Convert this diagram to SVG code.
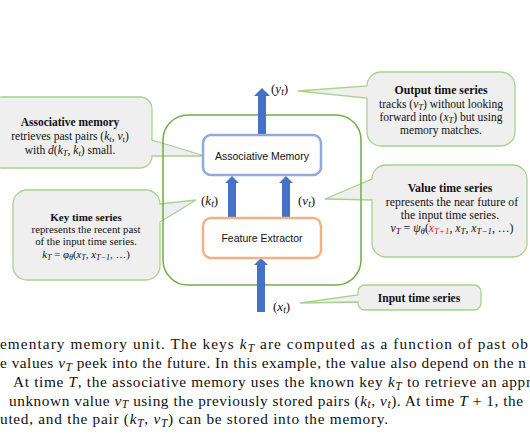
<svg xmlns="http://www.w3.org/2000/svg" width="530" height="442" viewBox="0 0 530 442">
<style>
.callout{fill:#efefef;stroke:#a9d18e;stroke-width:1.3}
.unit{fill:none;stroke:#70ad47;stroke-width:1.5}
.box{fill:#fff;stroke-width:2.5}
.arrow{fill:#4472c4}
.ct{font-family:"Liberation Serif",serif;fill:#111;text-anchor:middle}
.b{font-weight:bold}
.m{font-style:italic}
.sub{font-size:75%}
.bt{font-family:"Liberation Sans",Arial,sans-serif;font-size:10.5px;fill:#111;text-anchor:middle}
.lab{font-family:"Liberation Serif",serif;font-size:13px;fill:#111}
.cap{font-family:"Liberation Serif",serif;font-size:15.3px;fill:#111}
</style>
<rect width="530" height="442" fill="#fff"/>

<g id="callout-assoc">
<path class="callout" d="M 2,97 H 140 A 12 12 0 0 1 152,109 V 140 L 205,156 L 152,156 A 12 12 0 0 1 140,168 H 2 A 12 12 0 0 1 -10,156 V 109 A 12 12 0 0 1 2,97 Z"/>
<text class="ct b" x="70" y="125.5" font-size="11.5">Associative memory</text>
<text class="ct" x="70" y="139.5" font-size="11.5">retrieves past pairs (<tspan class="m">k</tspan><tspan class="sub m" dy="2">t</tspan><tspan dy="-2">, </tspan><tspan class="m">v</tspan><tspan class="sub m" dy="2">t</tspan><tspan dy="-2">)</tspan></text>
<text class="ct" x="70" y="154" font-size="11.5">with <tspan class="m">d</tspan>(<tspan class="m">k</tspan><tspan class="sub m" dy="2">T</tspan><tspan dy="-2">, </tspan><tspan class="m">k</tspan><tspan class="sub m" dy="2">t</tspan><tspan dy="-2">) small.</tspan></text>
</g>

<g id="callout-key">
<path class="callout" d="M 27,190 H 146 A 14 14 0 0 1 160,204 L 196,200 L 160,222 V 266 A 14 14 0 0 1 146,280 H 27 A 14 14 0 0 1 13,266 V 204 A 14 14 0 0 1 27,190 Z"/>
<text class="ct b" x="86" y="220.5" font-size="11">Key time series</text>
<text class="ct" x="86" y="232.5" font-size="10.8">represents the recent past</text>
<text class="ct" x="86" y="245" font-size="10.8">of the input time series.</text>
<text class="ct" x="86" y="257.5" font-size="10.8"><tspan class="m">k</tspan><tspan class="sub m" dy="2">T</tspan><tspan dy="-2"> = </tspan><tspan class="m">φ</tspan><tspan class="sub m" dy="2">θ</tspan><tspan dy="-2">(</tspan><tspan class="m">x</tspan><tspan class="sub m" dy="2">T</tspan><tspan dy="-2">, </tspan><tspan class="m">x</tspan><tspan class="sub m" dy="2">T−1</tspan><tspan dy="-2">, …)</tspan></text>
</g>

<g id="callout-output">
<path class="callout" d="M 381,72 H 501 A 14 14 0 0 1 515,86 V 132 A 14 14 0 0 1 501,146 H 381 A 14 14 0 0 1 367,132 V 98 L 298,91 L 367,86 A 14 14 0 0 1 381,72 Z"/>
<text class="ct b" x="441" y="94" font-size="11.8">Output time series</text>
<text class="ct" x="441" y="108" font-size="11.5">tracks (<tspan class="m">v</tspan><tspan class="sub m" dy="1.5">T</tspan><tspan dy="-1.5">) without looking</tspan></text>
<text class="ct" x="441" y="121" font-size="11.5">forward into (<tspan class="m">x</tspan><tspan class="sub m" dy="1.5">T</tspan><tspan dy="-1.5">) but using</tspan></text>
<text class="ct" x="441" y="134" font-size="11.5">memory matches.</text>
</g>

<g id="callout-value">
<path class="callout" d="M 386,165 H 513 A 14 14 0 0 1 527,179 V 243 A 14 14 0 0 1 513,257 H 386 A 14 14 0 0 1 372,243 V 200 L 325,199 L 372,179 A 14 14 0 0 1 386,165 Z"/>
<text class="ct b" x="450" y="191.5" font-size="11.8">Value time series</text>
<text class="ct" x="452" y="205.5" font-size="11.8">represents the near future of</text>
<text class="ct" x="450" y="218.5" font-size="11.8">the input time series.</text>
<text class="ct" x="452" y="231.5" font-size="11.8"><tspan class="m">v</tspan><tspan class="sub m" dy="2">T</tspan><tspan dy="-2"> = </tspan><tspan class="m">ψ</tspan><tspan class="sub m" dy="2">θ</tspan><tspan dy="-2">(</tspan><tspan class="m" fill="#e0201b">x</tspan><tspan class="sub m" dy="2" fill="#e0201b">T+1</tspan><tspan dy="-2">, </tspan><tspan class="m">x</tspan><tspan class="sub m" dy="2">T</tspan><tspan dy="-2">, </tspan><tspan class="m">x</tspan><tspan class="sub m" dy="2">T−1</tspan><tspan dy="-2">, …)</tspan></text>
</g>

<g id="callout-input">
<path class="callout" d="M 365,285 H 474 A 7 7 0 0 1 481,292 V 303 A 7 7 0 0 1 474,310 H 365 A 7 7 0 0 1 358,303 V 302 L 300,303 L 358,295 V 292 A 7 7 0 0 1 365,285 Z"/>
<text class="ct b" x="419" y="301.5" font-size="11.5">Input time series</text>
</g>

<g id="memory-unit">
<rect class="unit" x="163" y="115" width="198" height="170" rx="25"/>
</g>

<g id="connectors">
<polygon class="arrow" points="258,134 258,96 254,96 262,88 270,96 266,96 266,134"/>
<polygon class="arrow" points="228,217 228,183 225,183 232,176 239,183 236,183 236,217"/>
<polygon class="arrow" points="282,217 282,183 279,183 286,176 293,183 290,183 290,217"/>
<polygon class="arrow" points="257,312 257,265 254,265 261,258 268,265 265,265 265,312"/>
</g>

<g id="assoc-memory">
<rect class="box" x="203" y="135" width="118" height="40" rx="8" stroke="#8faadc"/>
<text class="bt" x="262" y="159.5">Associative Memory</text>
</g>

<g id="feature-extractor">
<rect class="box" x="203" y="218" width="118" height="40" rx="8" stroke="#f4b183"/>
<text class="bt" x="262" y="241.5">Feature Extractor</text>
</g>

<g id="labels">
<text class="lab" x="271" y="93">(<tspan class="m">y</tspan><tspan class="sub m" dy="2">t</tspan><tspan dy="-2">)</tspan></text>
<text class="lab" x="201" y="205">(<tspan class="m">k</tspan><tspan class="sub m" dy="2">t</tspan><tspan dy="-2">)</tspan></text>
<text class="lab" x="298" y="205">(<tspan class="m">v</tspan><tspan class="sub m" dy="2">t</tspan><tspan dy="-2">)</tspan></text>
<text class="lab" x="273" y="311">(<tspan class="m">x</tspan><tspan class="sub m" dy="2">t</tspan><tspan dy="-2">)</tspan></text>
</g>

<g id="caption">
<text class="cap" x="0" y="349" textLength="528" lengthAdjust="spacing">ementary memory unit.  The keys <tspan class="m">k</tspan><tspan class="sub m" dy="2.5">T</tspan><tspan dy="-2.5"> are computed as a function of past ob</tspan></text>
<text class="cap" x="0" y="368" textLength="526" lengthAdjust="spacing">e values <tspan class="m">v</tspan><tspan class="sub m" dy="2.5">T</tspan><tspan dy="-2.5"> peek into the future. In this example, the value also depend on the n</tspan></text>
<text class="cap" x="13" y="387" textLength="518" lengthAdjust="spacing">At time <tspan class="m">T</tspan>, the associative memory uses the known key <tspan class="m">k</tspan><tspan class="sub m" dy="2.5">T</tspan><tspan dy="-2.5"> to retrieve an appr</tspan></text>
<text class="cap" x="9" y="405.5" textLength="514" lengthAdjust="spacing">unknown value <tspan class="m">v</tspan><tspan class="sub m" dy="2.5">T</tspan><tspan dy="-2.5"> using the previously stored pairs (</tspan><tspan class="m">k</tspan><tspan class="sub m" dy="2.5">t</tspan><tspan dy="-2.5">, </tspan><tspan class="m">v</tspan><tspan class="sub m" dy="2.5">t</tspan><tspan dy="-2.5">). At time </tspan><tspan class="m">T</tspan> + 1, the</text>
<text class="cap" x="0" y="424" textLength="388" lengthAdjust="spacing">uted, and the pair (<tspan class="m">k</tspan><tspan class="sub m" dy="2.5">T</tspan><tspan dy="-2.5">, </tspan><tspan class="m">v</tspan><tspan class="sub m" dy="2.5">T</tspan><tspan dy="-2.5">) can be stored into the memory.</tspan></text>
</g>
</svg>
